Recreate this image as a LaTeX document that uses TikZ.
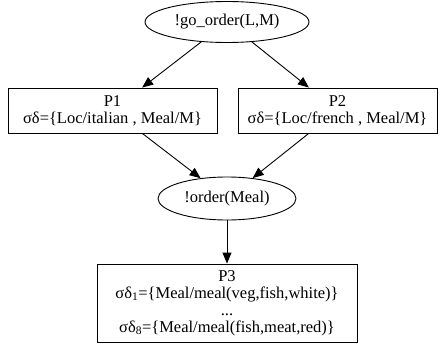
\documentclass[tikz,border=0pt]{standalone}
\usepackage{fontspec}
\setmainfont{Liberation Serif}
\usetikzlibrary{arrows.meta,shapes.geometric}

\begin{document}
\begin{tikzpicture}[x=1pt,y=-1pt,font=\fontsize{16.5}{17}\selectfont,line width=0.9pt,
    goal/.style={draw,ellipse,inner sep=0pt},
    proc/.style={draw,rectangle,align=center,inner sep=0pt},
    every edge/.style={draw,-{Triangle[length=11pt,width=9pt]}}]
  \useasboundingbox (0,0) rectangle (445,348);
  \node[goal,minimum width=164pt,minimum height=41pt] (go) at (227,22) {!go\_order(L,M)};
  \node[proc,minimum width=209pt,minimum height=45pt] (p1) at (112.5,110.5)
    {P1\\ σδ=\{Loc/italian , Meal/M\}};
  \node[proc,minimum width=199pt,minimum height=45pt] (p2) at (337.5,110.5)
    {P2\\ σδ=\{Loc/french , Meal/M\}};
  \node[goal,minimum width=138pt,minimum height=43pt] (ord) at (227,198.5) {!order(Meal)};
  \node[proc,minimum width=260pt,minimum height=78pt] (p3) at (227,303)
    {P3\\ σδ\textsubscript{1}=\{Meal/meal(veg,fish,white)\}\\ ...\\
     σδ\textsubscript{8}=\{Meal/meal(fish,meat,red)\}};
  \path (go) edge (p1)
        (go) edge (p2)
        (p1) edge (ord)
        (p2) edge (ord)
        (ord) edge (p3);
\end{tikzpicture}
\end{document}
